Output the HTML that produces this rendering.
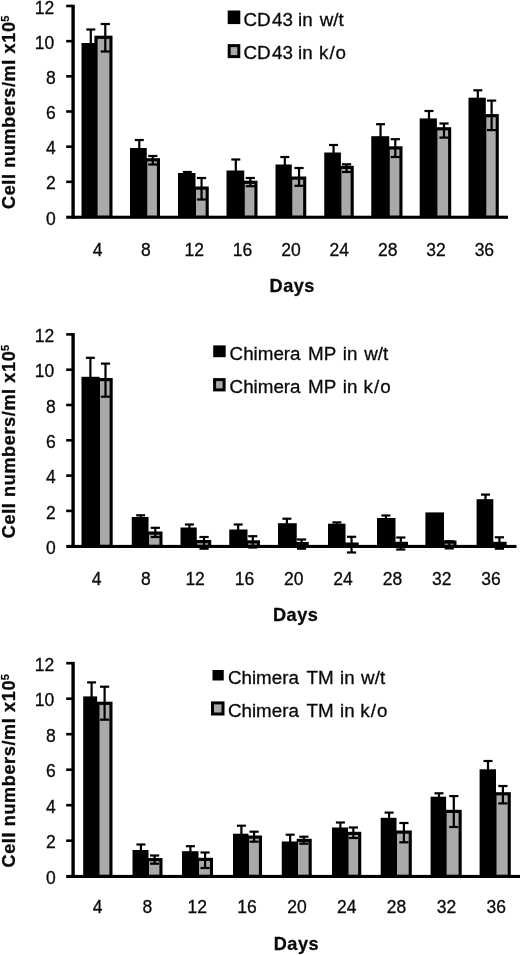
<!DOCTYPE html>
<html><head><meta charset="utf-8"><title>Cell numbers</title>
<style>
html,body{margin:0;padding:0;background:#fff;}
svg{display:block;will-change:transform}
text{font-family:"Liberation Sans",sans-serif;fill:#0a0a0a;stroke:#0a0a0a;stroke-width:0.3px}
.tk{font-size:17.5px}
.lg{font-size:18.8px}
.ti{font-size:18.1px;font-weight:bold;stroke-width:0.3px}
.sp{font-size:11px;font-weight:bold;stroke-width:0.2px}
</style></head><body>
<svg width="520" height="955" viewBox="0 0 520 955">
<rect width="520" height="955" fill="#fff"/>
<rect x="71.40" y="4.70" width="3.40" height="214.00" fill="#000"/>
<rect x="66.20" y="215.70" width="441.80" height="3.10" fill="#000"/>
<rect x="66.20" y="4.70" width="6.00" height="2.60" fill="#000"/>
<text x="54.2" y="13.60" text-anchor="end" class="tk">12</text>
<rect x="66.20" y="39.87" width="6.00" height="2.60" fill="#000"/>
<text x="54.2" y="48.77" text-anchor="end" class="tk">10</text>
<rect x="66.20" y="75.03" width="6.00" height="2.60" fill="#000"/>
<text x="55.8" y="83.93" text-anchor="end" class="tk">8</text>
<rect x="66.20" y="110.20" width="6.00" height="2.60" fill="#000"/>
<text x="55.8" y="119.10" text-anchor="end" class="tk">6</text>
<rect x="66.20" y="145.37" width="6.00" height="2.60" fill="#000"/>
<text x="55.8" y="154.27" text-anchor="end" class="tk">4</text>
<rect x="66.20" y="180.53" width="6.00" height="2.60" fill="#000"/>
<text x="55.8" y="189.43" text-anchor="end" class="tk">2</text>
<text x="55.8" y="224.60" text-anchor="end" class="tk">0</text>
<rect x="81.50" y="43.00" width="13.70" height="174.00" fill="#000"/>
<rect x="89.70" y="29.50" width="2.20" height="14.50" fill="#000"/>
<rect x="86.30" y="28.40" width="9.00" height="2.20" fill="#000"/>
<rect x="94.40" y="35.70" width="18.10" height="181.30" fill="#000"/>
<rect x="97.60" y="38.90" width="11.80" height="176.60" fill="#a9a9a9"/>
<rect x="104.20" y="24.00" width="2.20" height="27.50" fill="#000"/>
<rect x="100.70" y="22.90" width="9.20" height="2.20" fill="#000"/>
<rect x="100.70" y="50.40" width="9.20" height="2.20" fill="#000"/>
<text x="97.50" y="255.75" text-anchor="middle" class="tk">4</text>
<rect x="130.00" y="148.00" width="16.75" height="69.00" fill="#000"/>
<rect x="138.20" y="140.00" width="2.20" height="9.00" fill="#000"/>
<rect x="134.80" y="138.90" width="9.00" height="2.20" fill="#000"/>
<rect x="145.95" y="158.20" width="14.05" height="58.80" fill="#000"/>
<rect x="147.25" y="161.40" width="9.65" height="54.10" fill="#a9a9a9"/>
<rect x="151.70" y="156.00" width="2.20" height="8.50" fill="#000"/>
<rect x="148.20" y="154.90" width="9.20" height="2.20" fill="#000"/>
<rect x="148.20" y="163.40" width="9.20" height="2.20" fill="#000"/>
<text x="145.86" y="255.75" text-anchor="middle" class="tk">8</text>
<rect x="178.00" y="173.00" width="17.50" height="44.00" fill="#000"/>
<rect x="186.20" y="172.00" width="2.20" height="2.00" fill="#000"/>
<rect x="182.80" y="170.90" width="9.00" height="2.20" fill="#000"/>
<rect x="194.70" y="186.50" width="14.05" height="30.50" fill="#000"/>
<rect x="196.00" y="189.70" width="9.65" height="25.80" fill="#a9a9a9"/>
<rect x="200.45" y="178.00" width="2.20" height="21.50" fill="#000"/>
<rect x="196.95" y="176.90" width="9.20" height="2.20" fill="#000"/>
<rect x="196.95" y="198.40" width="9.20" height="2.20" fill="#000"/>
<text x="194.22" y="255.75" text-anchor="middle" class="tk">12</text>
<rect x="226.50" y="170.50" width="17.75" height="46.50" fill="#000"/>
<rect x="234.70" y="159.50" width="2.20" height="12.00" fill="#000"/>
<rect x="231.30" y="158.40" width="9.00" height="2.20" fill="#000"/>
<rect x="243.45" y="180.70" width="14.05" height="36.30" fill="#000"/>
<rect x="244.75" y="183.90" width="9.65" height="31.60" fill="#a9a9a9"/>
<rect x="249.20" y="178.00" width="2.20" height="8.20" fill="#000"/>
<rect x="245.70" y="176.90" width="9.20" height="2.20" fill="#000"/>
<rect x="245.70" y="185.10" width="9.20" height="2.20" fill="#000"/>
<text x="242.58" y="255.75" text-anchor="middle" class="tk">16</text>
<rect x="275.50" y="164.50" width="16.25" height="52.50" fill="#000"/>
<rect x="283.70" y="157.00" width="2.20" height="8.50" fill="#000"/>
<rect x="280.30" y="155.90" width="9.00" height="2.20" fill="#000"/>
<rect x="290.95" y="176.50" width="15.30" height="40.50" fill="#000"/>
<rect x="292.25" y="179.70" width="10.90" height="35.80" fill="#a9a9a9"/>
<rect x="297.95" y="168.00" width="2.20" height="17.80" fill="#000"/>
<rect x="294.45" y="166.90" width="9.20" height="2.20" fill="#000"/>
<rect x="294.45" y="184.70" width="9.20" height="2.20" fill="#000"/>
<text x="290.94" y="255.75" text-anchor="middle" class="tk">20</text>
<rect x="324.25" y="152.50" width="16.65" height="64.50" fill="#000"/>
<rect x="332.45" y="145.00" width="2.20" height="8.50" fill="#000"/>
<rect x="329.05" y="143.90" width="9.00" height="2.20" fill="#000"/>
<rect x="340.10" y="165.80" width="13.65" height="51.20" fill="#000"/>
<rect x="341.40" y="169.00" width="9.25" height="46.50" fill="#a9a9a9"/>
<rect x="345.45" y="164.30" width="2.20" height="7.70" fill="#000"/>
<rect x="341.95" y="163.20" width="9.20" height="2.20" fill="#000"/>
<rect x="341.95" y="170.90" width="9.20" height="2.20" fill="#000"/>
<text x="339.30" y="255.75" text-anchor="middle" class="tk">24</text>
<rect x="371.25" y="136.20" width="18.00" height="80.80" fill="#000"/>
<rect x="379.45" y="124.20" width="2.20" height="13.00" fill="#000"/>
<rect x="376.05" y="123.10" width="9.00" height="2.20" fill="#000"/>
<rect x="388.45" y="146.30" width="14.05" height="70.70" fill="#000"/>
<rect x="389.75" y="149.50" width="9.65" height="66.00" fill="#a9a9a9"/>
<rect x="394.20" y="139.20" width="2.20" height="17.80" fill="#000"/>
<rect x="390.70" y="138.10" width="9.20" height="2.20" fill="#000"/>
<rect x="390.70" y="155.90" width="9.20" height="2.20" fill="#000"/>
<text x="387.66" y="255.75" text-anchor="middle" class="tk">28</text>
<rect x="419.70" y="118.40" width="17.20" height="98.60" fill="#000"/>
<rect x="427.90" y="111.00" width="2.20" height="8.40" fill="#000"/>
<rect x="424.50" y="109.90" width="9.00" height="2.20" fill="#000"/>
<rect x="436.10" y="127.20" width="15.10" height="89.80" fill="#000"/>
<rect x="437.40" y="130.40" width="10.70" height="85.10" fill="#a9a9a9"/>
<rect x="442.90" y="123.50" width="2.20" height="14.10" fill="#000"/>
<rect x="439.40" y="122.40" width="9.20" height="2.20" fill="#000"/>
<rect x="439.40" y="136.50" width="9.20" height="2.20" fill="#000"/>
<text x="436.02" y="255.75" text-anchor="middle" class="tk">32</text>
<rect x="468.50" y="97.70" width="17.30" height="119.30" fill="#000"/>
<rect x="476.70" y="90.30" width="2.20" height="8.40" fill="#000"/>
<rect x="473.30" y="89.20" width="9.00" height="2.20" fill="#000"/>
<rect x="485.00" y="114.10" width="13.80" height="102.90" fill="#000"/>
<rect x="486.30" y="117.30" width="9.40" height="98.20" fill="#a9a9a9"/>
<rect x="490.50" y="100.60" width="2.20" height="29.50" fill="#000"/>
<rect x="487.00" y="99.50" width="9.20" height="2.20" fill="#000"/>
<rect x="487.00" y="129.00" width="9.20" height="2.20" fill="#000"/>
<text x="484.38" y="255.75" text-anchor="middle" class="tk">36</text>
<rect x="227.70" y="10.50" width="12.60" height="13.60" fill="#000"/>
<rect x="227.70" y="44.10" width="12.60" height="14.00" fill="#000"/>
<rect x="230.70" y="47.10" width="6.60" height="8.00" fill="#a9a9a9"/>
<text y="26.1" class="lg"><tspan x="243.5">CD</tspan> <tspan x="272.1">43</tspan> <tspan x="298.0">in</tspan> <tspan x="319.7">w/t</tspan></text>
<text y="59.3" class="lg"><tspan x="243.5">CD</tspan> <tspan x="272.1">43</tspan> <tspan x="298.0">in</tspan> <tspan x="319.0" style="letter-spacing:1px">k/o</tspan></text>
<text x="292" y="292.00" text-anchor="middle" class="ti" textLength="44.8" lengthAdjust="spacing">Days</text>
<text transform="translate(15.4,209.0) rotate(-90)" class="ti" textLength="187" lengthAdjust="spacing">Cell numbers/ml x10</text>
<text transform="translate(9.4,21.70) rotate(-90)" class="sp">5</text>
<rect x="71.40" y="333.10" width="3.40" height="214.80" fill="#000"/>
<rect x="66.20" y="544.90" width="450.30" height="3.10" fill="#000"/>
<rect x="66.20" y="333.10" width="6.00" height="2.60" fill="#000"/>
<text x="54.2" y="342.00" text-anchor="end" class="tk">12</text>
<rect x="66.20" y="368.40" width="6.00" height="2.60" fill="#000"/>
<text x="54.2" y="377.30" text-anchor="end" class="tk">10</text>
<rect x="66.20" y="403.70" width="6.00" height="2.60" fill="#000"/>
<text x="55.8" y="412.60" text-anchor="end" class="tk">8</text>
<rect x="66.20" y="439.00" width="6.00" height="2.60" fill="#000"/>
<text x="55.8" y="447.90" text-anchor="end" class="tk">6</text>
<rect x="66.20" y="474.30" width="6.00" height="2.60" fill="#000"/>
<text x="55.8" y="483.20" text-anchor="end" class="tk">4</text>
<rect x="66.20" y="509.60" width="6.00" height="2.60" fill="#000"/>
<text x="55.8" y="518.50" text-anchor="end" class="tk">2</text>
<text x="55.8" y="553.80" text-anchor="end" class="tk">0</text>
<rect x="81.50" y="376.80" width="18.00" height="169.40" fill="#000"/>
<rect x="89.30" y="357.80" width="2.20" height="20.00" fill="#000"/>
<rect x="85.90" y="356.70" width="9.00" height="2.20" fill="#000"/>
<rect x="98.70" y="378.00" width="14.00" height="168.20" fill="#000"/>
<rect x="100.00" y="381.20" width="9.60" height="163.50" fill="#a9a9a9"/>
<rect x="104.40" y="363.60" width="2.20" height="33.10" fill="#000"/>
<rect x="100.90" y="362.50" width="9.20" height="2.20" fill="#000"/>
<rect x="100.90" y="395.60" width="9.20" height="2.20" fill="#000"/>
<text x="96.50" y="585.00" text-anchor="middle" class="tk">4</text>
<rect x="131.75" y="517.00" width="16.75" height="29.20" fill="#000"/>
<rect x="139.55" y="515.30" width="2.20" height="2.70" fill="#000"/>
<rect x="136.15" y="514.20" width="9.00" height="2.20" fill="#000"/>
<rect x="147.70" y="531.50" width="14.80" height="14.70" fill="#000"/>
<rect x="149.00" y="534.70" width="10.40" height="10.00" fill="#a9a9a9"/>
<rect x="154.20" y="527.80" width="2.20" height="9.20" fill="#000"/>
<rect x="150.70" y="526.70" width="9.20" height="2.20" fill="#000"/>
<rect x="150.70" y="535.90" width="9.20" height="2.20" fill="#000"/>
<text x="145.82" y="585.00" text-anchor="middle" class="tk">8</text>
<rect x="180.50" y="527.50" width="16.25" height="18.70" fill="#000"/>
<rect x="188.30" y="524.50" width="2.20" height="4.00" fill="#000"/>
<rect x="184.90" y="523.40" width="9.00" height="2.20" fill="#000"/>
<rect x="195.95" y="540.00" width="15.30" height="6.20" fill="#000"/>
<rect x="197.25" y="543.20" width="10.90" height="1.50" fill="#a9a9a9"/>
<rect x="202.95" y="537.00" width="2.20" height="11.70" fill="#000"/>
<rect x="199.45" y="535.90" width="9.20" height="2.20" fill="#000"/>
<rect x="199.45" y="547.60" width="9.20" height="2.20" fill="#000"/>
<text x="195.14" y="585.00" text-anchor="middle" class="tk">12</text>
<rect x="229.25" y="529.50" width="18.25" height="16.70" fill="#000"/>
<rect x="237.05" y="524.50" width="2.20" height="6.00" fill="#000"/>
<rect x="233.65" y="523.40" width="9.00" height="2.20" fill="#000"/>
<rect x="246.70" y="540.30" width="13.30" height="5.90" fill="#000"/>
<rect x="248.00" y="543.50" width="8.90" height="1.20" fill="#a9a9a9"/>
<rect x="251.70" y="536.20" width="2.20" height="11.30" fill="#000"/>
<rect x="248.20" y="535.10" width="9.20" height="2.20" fill="#000"/>
<rect x="248.20" y="546.40" width="9.20" height="2.20" fill="#000"/>
<text x="244.46" y="585.00" text-anchor="middle" class="tk">16</text>
<rect x="278.00" y="523.20" width="18.75" height="23.00" fill="#000"/>
<rect x="285.80" y="518.70" width="2.20" height="5.50" fill="#000"/>
<rect x="282.40" y="517.60" width="9.00" height="2.20" fill="#000"/>
<rect x="295.95" y="542.00" width="12.80" height="4.20" fill="#000"/>
<rect x="300.45" y="539.50" width="2.20" height="9.20" fill="#000"/>
<rect x="296.95" y="538.40" width="9.20" height="2.20" fill="#000"/>
<rect x="296.95" y="547.60" width="9.20" height="2.20" fill="#000"/>
<text x="293.78" y="585.00" text-anchor="middle" class="tk">20</text>
<rect x="328.00" y="523.70" width="17.50" height="22.50" fill="#000"/>
<rect x="335.80" y="522.40" width="2.20" height="2.30" fill="#000"/>
<rect x="332.40" y="521.30" width="9.00" height="2.20" fill="#000"/>
<rect x="344.70" y="542.50" width="14.05" height="3.70" fill="#000"/>
<rect x="350.45" y="536.80" width="2.20" height="15.70" fill="#000"/>
<rect x="346.95" y="535.70" width="9.20" height="2.20" fill="#000"/>
<rect x="346.95" y="551.40" width="9.20" height="2.20" fill="#000"/>
<text x="343.10" y="585.00" text-anchor="middle" class="tk">24</text>
<rect x="377.00" y="518.00" width="18.50" height="28.20" fill="#000"/>
<rect x="384.80" y="515.50" width="2.20" height="3.50" fill="#000"/>
<rect x="381.40" y="514.40" width="9.00" height="2.20" fill="#000"/>
<rect x="394.70" y="541.80" width="13.30" height="4.40" fill="#000"/>
<rect x="399.70" y="537.50" width="2.20" height="12.00" fill="#000"/>
<rect x="396.20" y="536.40" width="9.20" height="2.20" fill="#000"/>
<rect x="396.20" y="548.40" width="9.20" height="2.20" fill="#000"/>
<text x="392.42" y="585.00" text-anchor="middle" class="tk">28</text>
<rect x="425.40" y="512.40" width="18.60" height="33.80" fill="#000"/>
<rect x="443.20" y="540.50" width="13.30" height="5.70" fill="#000"/>
<rect x="444.50" y="543.70" width="8.90" height="1.00" fill="#a9a9a9"/>
<rect x="448.20" y="541.30" width="2.20" height="7.10" fill="#000"/>
<rect x="444.70" y="540.20" width="9.20" height="2.20" fill="#000"/>
<rect x="444.70" y="547.30" width="9.20" height="2.20" fill="#000"/>
<text x="441.74" y="585.00" text-anchor="middle" class="tk">32</text>
<rect x="476.60" y="499.20" width="16.70" height="47.00" fill="#000"/>
<rect x="484.40" y="494.60" width="2.20" height="5.60" fill="#000"/>
<rect x="481.00" y="493.50" width="9.00" height="2.20" fill="#000"/>
<rect x="492.50" y="541.80" width="14.10" height="4.40" fill="#000"/>
<rect x="498.30" y="537.30" width="2.20" height="11.40" fill="#000"/>
<rect x="494.80" y="536.20" width="9.20" height="2.20" fill="#000"/>
<rect x="494.80" y="547.60" width="9.20" height="2.20" fill="#000"/>
<text x="491.06" y="585.00" text-anchor="middle" class="tk">36</text>
<rect x="213.20" y="345.40" width="12.50" height="11.80" fill="#000"/>
<rect x="213.10" y="378.10" width="12.50" height="13.30" fill="#000"/>
<rect x="216.10" y="381.10" width="6.50" height="7.30" fill="#a9a9a9"/>
<text y="360.0" class="lg"><tspan x="229.6">Chimera</tspan> <tspan x="308.0">MP</tspan> <tspan x="342.8">in</tspan> <tspan x="364.3">w/t</tspan></text>
<text y="393.3" class="lg"><tspan x="229.6">Chimera</tspan> <tspan x="308.0">MP</tspan> <tspan x="342.8">in</tspan> <tspan x="363.6" style="letter-spacing:1px">k/o</tspan></text>
<text x="295.4" y="621.20" text-anchor="middle" class="ti" textLength="44.8" lengthAdjust="spacing">Days</text>
<text transform="translate(15.4,538.2) rotate(-90)" class="ti" textLength="187" lengthAdjust="spacing">Cell numbers/ml x10</text>
<text transform="translate(9.4,350.90) rotate(-90)" class="sp">5</text>
<rect x="71.40" y="661.90" width="3.40" height="216.00" fill="#000"/>
<rect x="66.20" y="874.90" width="453.80" height="3.10" fill="#000"/>
<rect x="66.20" y="661.90" width="6.00" height="2.60" fill="#000"/>
<text x="54.2" y="670.80" text-anchor="end" class="tk">12</text>
<rect x="66.20" y="697.40" width="6.00" height="2.60" fill="#000"/>
<text x="54.2" y="706.30" text-anchor="end" class="tk">10</text>
<rect x="66.20" y="732.90" width="6.00" height="2.60" fill="#000"/>
<text x="55.8" y="741.80" text-anchor="end" class="tk">8</text>
<rect x="66.20" y="768.40" width="6.00" height="2.60" fill="#000"/>
<text x="55.8" y="777.30" text-anchor="end" class="tk">6</text>
<rect x="66.20" y="803.90" width="6.00" height="2.60" fill="#000"/>
<text x="55.8" y="812.80" text-anchor="end" class="tk">4</text>
<rect x="66.20" y="839.40" width="6.00" height="2.60" fill="#000"/>
<text x="55.8" y="848.30" text-anchor="end" class="tk">2</text>
<text x="55.8" y="883.80" text-anchor="end" class="tk">0</text>
<rect x="83.20" y="696.40" width="13.90" height="179.80" fill="#000"/>
<rect x="90.50" y="682.40" width="2.20" height="15.00" fill="#000"/>
<rect x="87.10" y="681.30" width="9.00" height="2.20" fill="#000"/>
<rect x="96.30" y="701.70" width="16.20" height="174.50" fill="#000"/>
<rect x="99.50" y="704.90" width="9.90" height="169.80" fill="#a9a9a9"/>
<rect x="103.50" y="686.70" width="2.20" height="33.00" fill="#000"/>
<rect x="100.00" y="685.60" width="9.20" height="2.20" fill="#000"/>
<rect x="100.00" y="718.60" width="9.20" height="2.20" fill="#000"/>
<text x="97.50" y="912.50" text-anchor="middle" class="tk">4</text>
<rect x="132.50" y="850.00" width="16.00" height="26.20" fill="#000"/>
<rect x="139.80" y="844.50" width="2.20" height="6.50" fill="#000"/>
<rect x="136.40" y="843.40" width="9.00" height="2.20" fill="#000"/>
<rect x="147.70" y="858.00" width="14.80" height="18.20" fill="#000"/>
<rect x="149.00" y="861.20" width="10.40" height="13.50" fill="#a9a9a9"/>
<rect x="153.50" y="855.50" width="2.20" height="8.20" fill="#000"/>
<rect x="150.00" y="854.40" width="9.20" height="2.20" fill="#000"/>
<rect x="150.00" y="862.60" width="9.20" height="2.20" fill="#000"/>
<text x="147.35" y="912.50" text-anchor="middle" class="tk">8</text>
<rect x="182.00" y="851.20" width="16.50" height="25.00" fill="#000"/>
<rect x="189.30" y="846.20" width="2.20" height="6.00" fill="#000"/>
<rect x="185.90" y="845.10" width="9.00" height="2.20" fill="#000"/>
<rect x="197.70" y="857.80" width="15.30" height="18.40" fill="#000"/>
<rect x="199.00" y="861.00" width="10.90" height="13.70" fill="#a9a9a9"/>
<rect x="204.00" y="852.50" width="2.20" height="15.50" fill="#000"/>
<rect x="200.50" y="851.40" width="9.20" height="2.20" fill="#000"/>
<rect x="200.50" y="866.90" width="9.20" height="2.20" fill="#000"/>
<text x="197.20" y="912.50" text-anchor="middle" class="tk">12</text>
<rect x="233.00" y="833.70" width="15.50" height="42.50" fill="#000"/>
<rect x="240.30" y="825.70" width="2.20" height="9.00" fill="#000"/>
<rect x="236.90" y="824.60" width="9.00" height="2.20" fill="#000"/>
<rect x="247.70" y="835.50" width="14.30" height="40.70" fill="#000"/>
<rect x="249.00" y="838.70" width="9.90" height="36.00" fill="#a9a9a9"/>
<rect x="253.00" y="831.70" width="2.20" height="10.00" fill="#000"/>
<rect x="249.50" y="830.60" width="9.20" height="2.20" fill="#000"/>
<rect x="249.50" y="840.60" width="9.20" height="2.20" fill="#000"/>
<text x="247.05" y="912.50" text-anchor="middle" class="tk">16</text>
<rect x="281.75" y="841.50" width="15.75" height="34.70" fill="#000"/>
<rect x="289.05" y="834.70" width="2.20" height="7.80" fill="#000"/>
<rect x="285.65" y="833.60" width="9.00" height="2.20" fill="#000"/>
<rect x="296.70" y="838.80" width="15.05" height="37.40" fill="#000"/>
<rect x="298.00" y="842.00" width="10.65" height="32.70" fill="#a9a9a9"/>
<rect x="302.75" y="836.70" width="2.20" height="7.00" fill="#000"/>
<rect x="299.25" y="835.60" width="9.20" height="2.20" fill="#000"/>
<rect x="299.25" y="842.60" width="9.20" height="2.20" fill="#000"/>
<text x="296.90" y="912.50" text-anchor="middle" class="tk">20</text>
<rect x="332.00" y="827.50" width="16.00" height="48.70" fill="#000"/>
<rect x="339.30" y="822.50" width="2.20" height="6.00" fill="#000"/>
<rect x="335.90" y="821.40" width="9.00" height="2.20" fill="#000"/>
<rect x="347.20" y="831.80" width="14.05" height="44.40" fill="#000"/>
<rect x="348.50" y="835.00" width="9.65" height="39.70" fill="#a9a9a9"/>
<rect x="352.25" y="827.50" width="2.20" height="10.50" fill="#000"/>
<rect x="348.75" y="826.40" width="9.20" height="2.20" fill="#000"/>
<rect x="348.75" y="836.90" width="9.20" height="2.20" fill="#000"/>
<text x="346.75" y="912.50" text-anchor="middle" class="tk">24</text>
<rect x="380.70" y="817.80" width="15.80" height="58.40" fill="#000"/>
<rect x="388.00" y="812.60" width="2.20" height="6.20" fill="#000"/>
<rect x="384.60" y="811.50" width="9.00" height="2.20" fill="#000"/>
<rect x="395.70" y="830.50" width="16.10" height="45.70" fill="#000"/>
<rect x="397.00" y="833.70" width="11.70" height="41.00" fill="#a9a9a9"/>
<rect x="402.80" y="823.00" width="2.20" height="19.30" fill="#000"/>
<rect x="399.30" y="821.90" width="9.20" height="2.20" fill="#000"/>
<rect x="399.30" y="841.20" width="9.20" height="2.20" fill="#000"/>
<text x="396.60" y="912.50" text-anchor="middle" class="tk">28</text>
<rect x="430.60" y="796.70" width="15.50" height="79.50" fill="#000"/>
<rect x="437.90" y="793.30" width="2.20" height="4.40" fill="#000"/>
<rect x="434.50" y="792.20" width="9.00" height="2.20" fill="#000"/>
<rect x="445.30" y="809.80" width="16.40" height="66.40" fill="#000"/>
<rect x="446.60" y="813.00" width="12.00" height="61.70" fill="#a9a9a9"/>
<rect x="452.70" y="796.10" width="2.20" height="30.90" fill="#000"/>
<rect x="449.20" y="795.00" width="9.20" height="2.20" fill="#000"/>
<rect x="449.20" y="825.90" width="9.20" height="2.20" fill="#000"/>
<text x="446.45" y="912.50" text-anchor="middle" class="tk">32</text>
<rect x="479.60" y="769.30" width="16.40" height="106.90" fill="#000"/>
<rect x="486.90" y="761.00" width="2.20" height="9.30" fill="#000"/>
<rect x="483.50" y="759.90" width="9.00" height="2.20" fill="#000"/>
<rect x="495.20" y="792.20" width="15.60" height="84.00" fill="#000"/>
<rect x="496.50" y="795.40" width="11.20" height="79.30" fill="#a9a9a9"/>
<rect x="501.80" y="786.00" width="2.20" height="17.40" fill="#000"/>
<rect x="498.30" y="784.90" width="9.20" height="2.20" fill="#000"/>
<rect x="498.30" y="802.30" width="9.20" height="2.20" fill="#000"/>
<text x="496.30" y="912.50" text-anchor="middle" class="tk">36</text>
<rect x="212.50" y="670.00" width="11.25" height="10.50" fill="#000"/>
<rect x="211.00" y="701.40" width="13.50" height="14.10" fill="#000"/>
<rect x="214.00" y="704.40" width="7.50" height="8.10" fill="#a9a9a9"/>
<text y="683.5" class="lg"><tspan x="227.9">Chimera</tspan> <tspan x="306.6">TM</tspan> <tspan x="340.0">in</tspan> <tspan x="361.1">w/t</tspan></text>
<text y="717.3" class="lg"><tspan x="227.9">Chimera</tspan> <tspan x="306.6">TM</tspan> <tspan x="340.0">in</tspan> <tspan x="360.3" style="letter-spacing:1px">k/o</tspan></text>
<text x="296.2" y="949.50" text-anchor="middle" class="ti" textLength="44.8" lengthAdjust="spacing">Days</text>
<text transform="translate(15.4,867.5) rotate(-90)" class="ti" textLength="187" lengthAdjust="spacing">Cell numbers/ml x10</text>
<text transform="translate(9.4,680.20) rotate(-90)" class="sp">5</text>
</svg>
</body></html>
